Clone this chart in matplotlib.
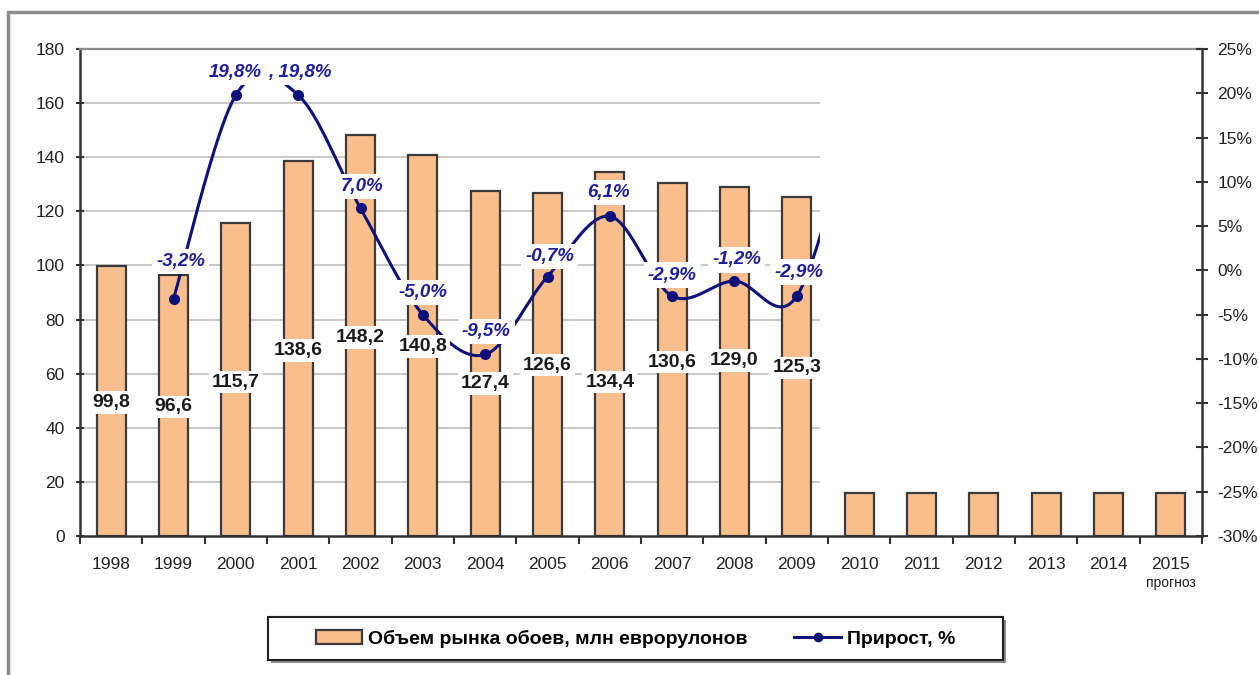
import matplotlib

matplotlib.use("Agg")
import matplotlib.pyplot as plt
from matplotlib.lines import Line2D
from matplotlib.patches import Patch, Rectangle
import matplotlib.transforms as mtransforms
import numpy as np

plt.rcParams["font.family"] = ["Liberation Sans", "DejaVu Sans"]

# --- data -------------------------------------------------------------
years = ["1998", "1999", "2000", "2001", "2002", "2003", "2004", "2005", "2006",
         "2007", "2008", "2009", "2010", "2011", "2012", "2013", "2014", "2015"]
volume = [99.8, 96.6, 115.7, 138.6, 148.2, 140.8, 127.4, 126.6, 134.4,
          130.6, 129.0, 125.3, 16, 16, 16, 16, 16, 16]
growth_years = years[1:13]
growth = [-3.2, 19.8, 19.8, 7.0, -5.0, -9.5, -0.7, 6.1, -2.9, -1.2, -2.9, 20.0]
n_growth_labels = 11  # 1999..2009 get labels

# label placement (bar labels in data units, growth label offsets in px)
bar_label_y = [49.2, 47.7, 56.9, 68.7, 73.5, 69.9, 56.5, 63.2, 56.9, 64.3, 65.0, 62.1]
growth_off = [(7, 37), (-1, 23), (2, 23), (2, 22), (0, 22), (1, 23), (2, 20),
              (-1, 24), (0, 21), (2, 21), (2, 24)]

BAR_FC = "#F9BE8C"
BAR_EC = "#3a3a3a"
LINE_C = "#10107a"
LABEL_C = "#1e1e9a"


def smooth(xs, ys, n=40):
    """Catmull-Rom style smoothing like Excel's smoothed line."""
    xs = np.asarray(xs, float)
    ys = np.asarray(ys, float)
    px = np.concatenate([[xs[0]], xs, [xs[-1]]])
    py = np.concatenate([[ys[0]], ys, [ys[-1]]])
    out_x, out_y = [], []
    t = np.linspace(0, 1, n)
    h00 = 2 * t**3 - 3 * t**2 + 1
    h10 = t**3 - 2 * t**2 + t
    h01 = -2 * t**3 + 3 * t**2
    h11 = t**3 - t**2
    for i in range(1, len(px) - 2):
        mx0 = (px[i + 1] - px[i - 1]) / 2
        mx1 = (px[i + 2] - px[i]) / 2
        my0 = (py[i + 1] - py[i - 1]) / 2
        my1 = (py[i + 2] - py[i]) / 2
        out_x.append(h00 * px[i] + h10 * mx0 + h01 * px[i + 1] + h11 * mx1)
        out_y.append(h00 * py[i] + h10 * my0 + h01 * py[i + 1] + h11 * my1)
    return np.concatenate(out_x), np.concatenate(out_y)


fig = plt.figure(figsize=(12.59, 6.75), dpi=100)
ax = fig.add_axes([80 / 1259, 1 - 536 / 675, (1202 - 80) / 1259, (536 - 49) / 675])
ax2 = ax.twinx()

x = np.arange(len(years))
ax.bar(x, volume, width=0.47, color=BAR_FC, edgecolor=BAR_EC, linewidth=1.6, zorder=2)

ax.set_xlim(-0.5, len(years) - 0.5)
ax.set_ylim(0, 180)
ax.set_yticks(np.arange(0, 181, 20))
ax.hlines(np.arange(20, 161, 20), -0.5, 11.37, color="#c4c4c4", lw=1.3, zorder=0)

ax.set_xticks(x)
ax.set_xticklabels(years, fontsize=12.5, color="#222222")
ax.set_xticks(np.arange(-0.5, len(years), 1), minor=True)
ax.tick_params(axis="x", which="major", length=0, pad=15)
ax.tick_params(axis="x", which="minor", length=6, width=1.5, color="#333333", direction="out")
ax.tick_params(axis="y", length=6, width=1.5, color="#333333", labelsize=12.5,
               labelcolor="#222222", direction="inout", pad=8)

for side in ("left", "bottom"):
    ax.spines[side].set_color("#333333")
    ax.spines[side].set_linewidth(1.8)
ax.spines["top"].set_color("#8a8a8a")
ax.spines["top"].set_linewidth(1.6)
ax.spines["right"].set_visible(False)
for side in ("left", "top", "bottom"):
    ax2.spines[side].set_visible(False)
ax2.spines["right"].set_color("#333333")
ax2.spines["right"].set_linewidth(1.8)

ax2.set_ylim(-30, 25)
ax2.set_yticks(np.arange(-30, 26, 5))
ax2.set_yticklabels([f"{v}%" for v in range(-30, 26, 5)])
ax2.tick_params(axis="y", length=8, width=1.5, color="#333333", labelsize=12.5,
                labelcolor="#222222", direction="inout", pad=7)

# growth line
gx = np.arange(1, 1 + len(growth))
sx, sy = smooth(gx, growth)
clip = Rectangle((-0.5, -30), 11.87, 55, transform=ax2.transData, facecolor="none", edgecolor="none")
ax2.add_patch(clip)
(ln,) = ax2.plot(sx, sy, color=LINE_C, lw=2.2, zorder=3)
ln.set_clip_path(clip)
ax2.plot(gx[:n_growth_labels], growth[:n_growth_labels], "o", color=LINE_C, ms=7, zorder=4)

# growth labels
for i in range(n_growth_labels):
    txt = f"{growth[i]:.1f}%".replace(".", ",")
    if i == 2:
        txt = ", " + txt
    dx, dy = growth_off[i]
    ax2.annotate(txt, (gx[i], growth[i]), xytext=(dx * 0.72, dy * 0.72),
                 textcoords="offset points", ha="center", va="center",
                 fontsize=13.5, fontweight="bold", fontstyle="italic", color=LABEL_C,
                 bbox=dict(boxstyle="square,pad=0.22", fc="white", ec="none"), zorder=6)

# bar value labels (drawn on ax2 so they sit above the line)
for i, yv in enumerate(bar_label_y):
    ax2.text(x[i], yv, f"{volume[i]:.1f}".replace(".", ","), transform=ax.transData,
             ha="center", va="center", fontsize=14, fontweight="bold", color="#1a1a1a",
             bbox=dict(boxstyle="square,pad=0.15", fc="white", ec="none"), zorder=6)

trans = mtransforms.blended_transform_factory(ax.transData, ax.transAxes)
ax.text(x[-1], -0.097, "прогноз", transform=trans, ha="center", va="center",
        fontsize=10, color="#222222")

# outer frame
fig.patches.append(Rectangle((8 / 1259, -0.1), 1.2, 1.1 - 12 / 675, transform=fig.transFigure,
                             fill=False, edgecolor="#8c8c8c", lw=2.5))

# legend box with shadow
lx0, lx1, ly0, ly1 = 268 / 1259, 1003 / 1259, 1 - 660 / 675, 1 - 617 / 675
fig.patches.append(Rectangle((lx0 + 3 / 1259, ly0 - 3 / 675), lx1 - lx0, ly1 - ly0,
                             transform=fig.transFigure, facecolor="#8a8a8a", edgecolor="none"))
fig.patches.append(Rectangle((lx0, ly0), lx1 - lx0, ly1 - ly0, transform=fig.transFigure,
                             facecolor="white", edgecolor="#222222", lw=1.5))
handles = [Patch(facecolor=BAR_FC, edgecolor=BAR_EC, linewidth=1.6),
           Line2D([], [], color=LINE_C, lw=2.2, marker="o", ms=6)]
fig.legend(handles, ["Объем рынка обоев, млн еврорулонов", "Прирост, %"],
           loc="center", bbox_to_anchor=((lx0 + lx1) / 2, (ly0 + ly1) / 2), ncol=2,
           frameon=False, prop=dict(size=14, weight="bold"), handlelength=2.4,
           handleheight=0.7, handletextpad=0.3, columnspacing=2.4)

fig.savefig("out.png", dpi=100)
